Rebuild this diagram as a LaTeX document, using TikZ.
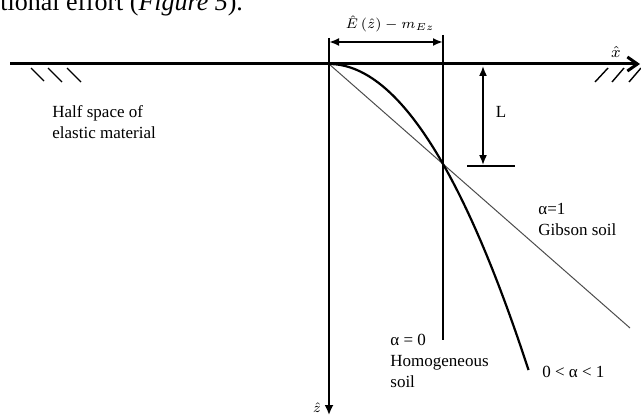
\documentclass[tikz,border=0pt]{standalone}
\usepackage{fontspec}
\setmainfont{Liberation Serif}
\usetikzlibrary{arrows.meta}

\begin{document}
\begin{tikzpicture}[x=0.5pt, y=-0.5pt,
    ground/.style={line width=1.5pt},
    axisline/.style={line width=0.9pt},
    hatch/.style={line width=0.7pt},
    dimline/.style={line width=1pt, {Latex[length=5pt,width=4pt]}-{Latex[length=5pt,width=4pt]}},
    lbl/.style={inner sep=0pt, font=\fontsize{8.5}{10.5}\selectfont, align=left}]
  \useasboundingbox (0,0) rectangle (641,417);

  % Text above the figure
  \node[anchor=base west, inner sep=0pt, font=\fontsize{13}{15}\selectfont] (cap) at (0,11)
    {tional effort (\textit{Figure 5}).};

  % Named points
  \coordinate (gl) at (10,64);
  \coordinate (gr) at (640,64);
  \coordinate (O) at (329,64);
  \coordinate (zt) at (329,38);
  \coordinate (zb) at (329,415);
  \coordinate (ht) at (443,35);
  \coordinate (hb) at (443,340);
  \coordinate (P) at (443,164);
  \coordinate (gib) at (630,328);
  \coordinate (par) at (528.5,370);

  % Ground surface and x axis
  \draw[ground, -{Straight Barb[length=5pt,width=7pt]}] (gl) -- (gr);
  \node[inner sep=0pt] (xhat) at (616,52) {\footnotesize$\hat{x}$};
  % Hatches
  \draw[hatch] (31,68) -- (44,81);
  \draw[hatch] (48,68) -- (62,82);
  \draw[hatch] (67,68) -- (81,82);
  \draw[hatch] (595,82) -- (608,68);
  \draw[hatch] (612,82) -- (624,68);
  \draw[hatch] (629,82) -- (641,68);

  % z axis
  \draw[axisline, -{Latex[length=5pt,width=4.5pt]}] (zt) -- (zb);
  \node[inner sep=0pt] (zhat) at (317,408) {\scriptsize$\hat{z}$};

  % Homogeneous soil (alpha = 0)
  \draw[line width=1.1pt] (ht) -- (hb);

  % Modulus dimension
  \coordinate (dl) at (329,42);
  \coordinate (dr) at (443,42);
  \draw[dimline] (dl) -- (dr);
  \node[inner sep=0pt] (Elbl) at (390,24)
    {\fontsize{7}{8}\selectfont$\hat{E}\,(\hat{z})-m_{Ez}$};

  % Depth L
  \coordinate (Lt) at (483,66);
  \coordinate (Lb) at (483,165);
  \draw[dimline, line width=0.8pt] (Lt) -- (Lb);
  \draw[line width=0.8pt] (467,166) -- (515,166);
  \node[lbl] (Llbl) at (501,112) {L};

  % Gibson soil (alpha = 1)
  \draw[line width=0.5pt, black!70] (O) -- (gib);
  % 0 < alpha < 1
  \draw[line width=1.1pt] (O) .. controls (395.5,64) and (462,166.2) .. (par);

  % Labels
  \node[lbl, anchor=west] (half) at (52,122) {Half space of\\elastic material};
  \node[lbl, anchor=west] (gibson) at (538,219) {α=1\\Gibson soil};
  \node[lbl, anchor=west] (homog) at (390,361) {α = 0\\Homogeneous\\soil};
  \node[lbl, anchor=west] (mid) at (542,372) {0 < α < 1};
\end{tikzpicture}
\end{document}
